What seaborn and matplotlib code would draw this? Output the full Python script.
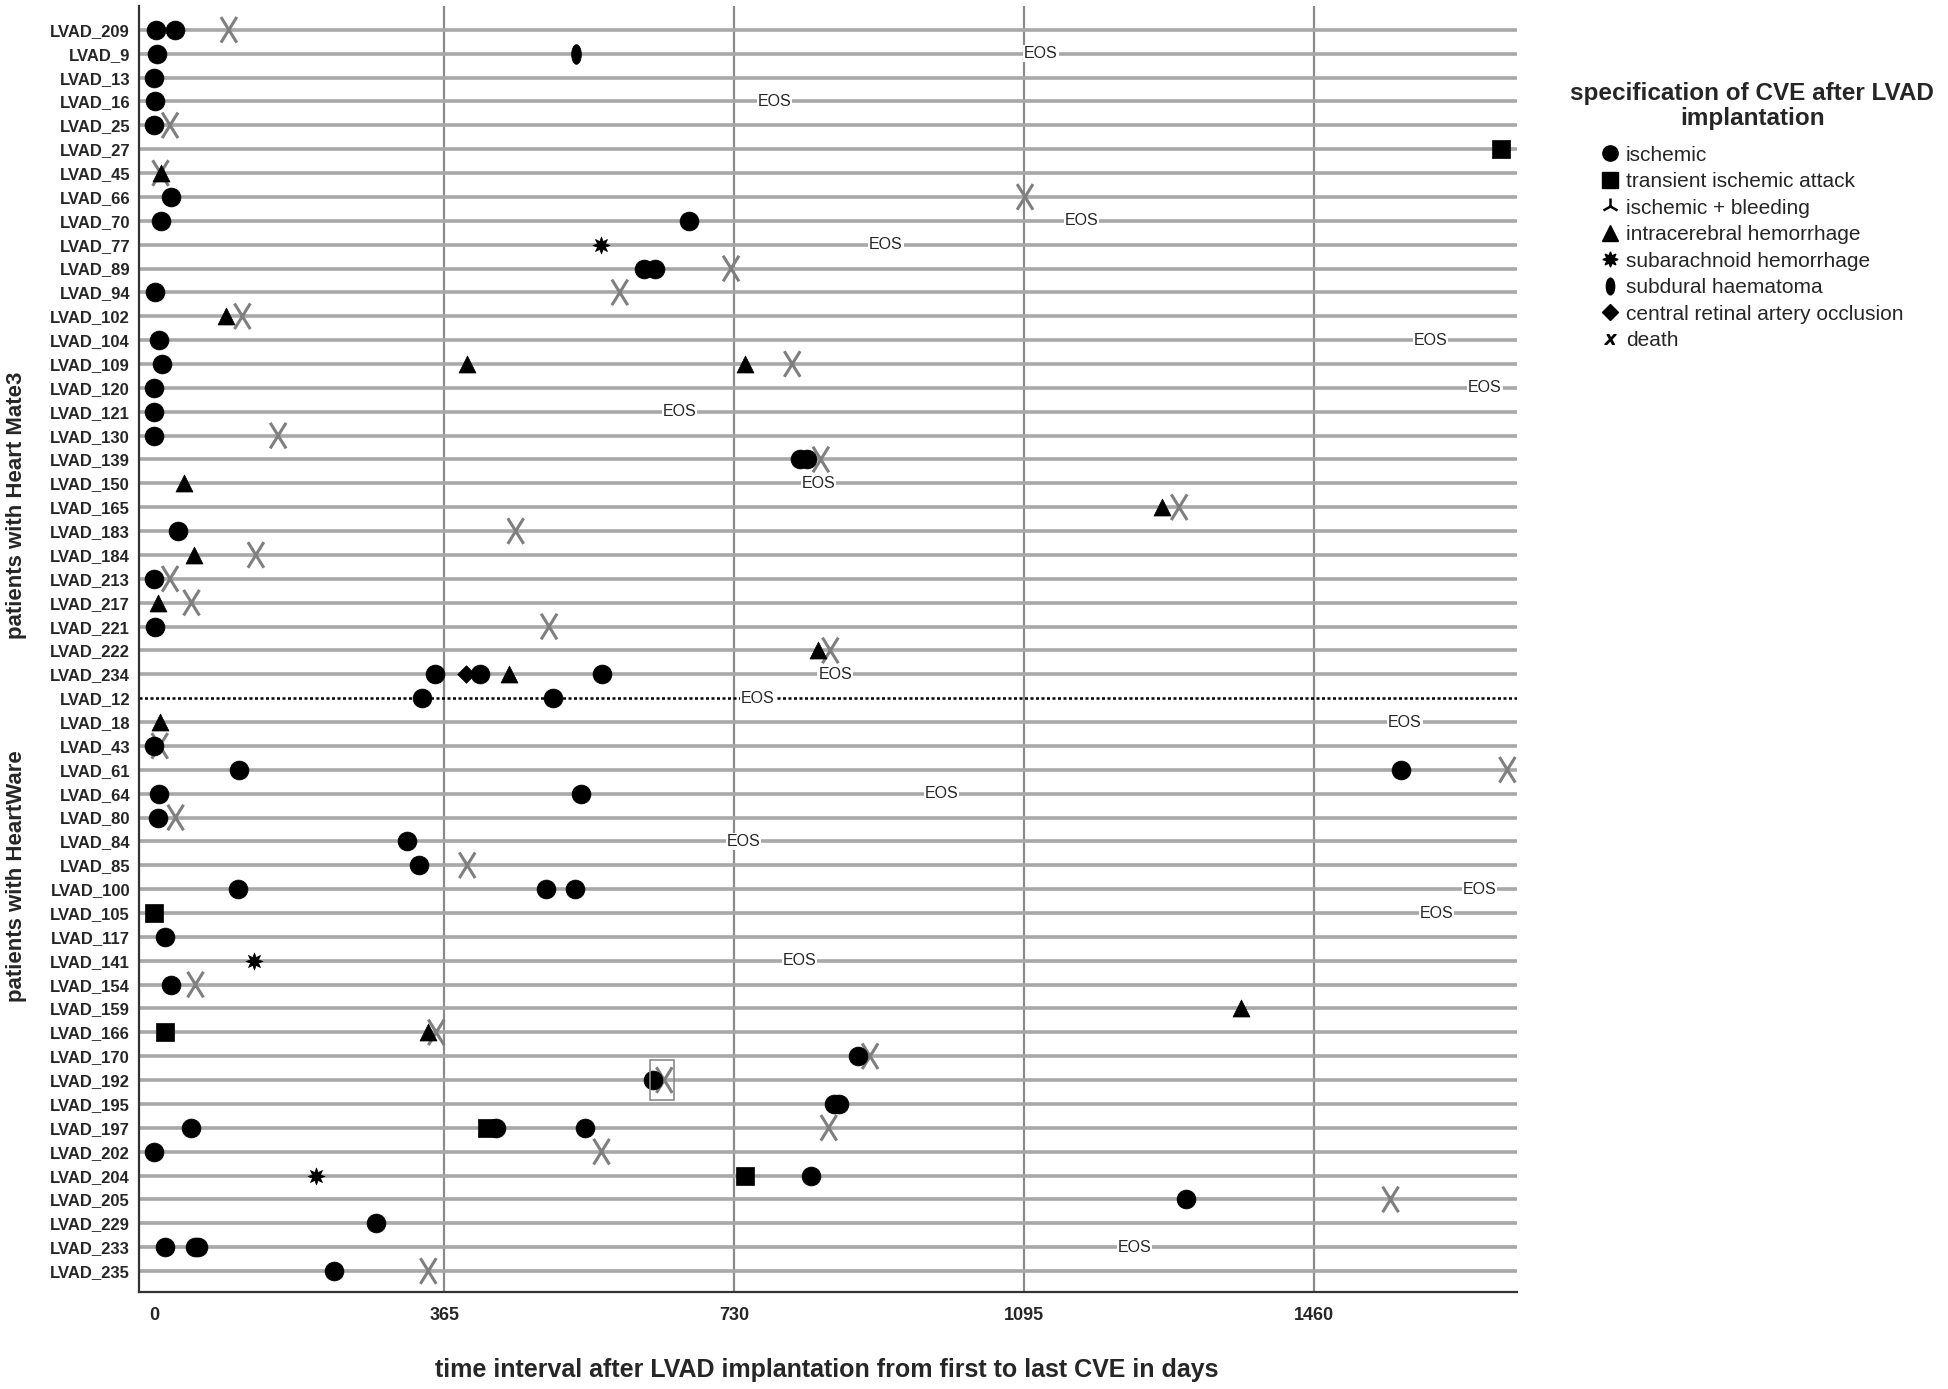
import numpy as np
import pandas as pd
import matplotlib
matplotlib.use("Agg")
import matplotlib.pyplot as plt
from matplotlib.path import Path
from matplotlib.lines import Line2D
from matplotlib.patches import Rectangle
import seaborn as sns

# patients (top to bottom)
hm3_patients = ["LVAD_209", "LVAD_9", "LVAD_13", "LVAD_16", "LVAD_25", "LVAD_27", "LVAD_45",
                "LVAD_66", "LVAD_70", "LVAD_77", "LVAD_89", "LVAD_94", "LVAD_102", "LVAD_104",
                "LVAD_109", "LVAD_120", "LVAD_121", "LVAD_130", "LVAD_139", "LVAD_150", "LVAD_165",
                "LVAD_183", "LVAD_184", "LVAD_213", "LVAD_217", "LVAD_221", "LVAD_222", "LVAD_234"]
hw_patients = ["LVAD_12", "LVAD_18", "LVAD_43", "LVAD_61", "LVAD_64", "LVAD_80", "LVAD_84",
               "LVAD_85", "LVAD_100", "LVAD_105", "LVAD_117", "LVAD_141", "LVAD_154", "LVAD_159",
               "LVAD_166", "LVAD_170", "LVAD_192", "LVAD_195", "LVAD_197", "LVAD_202", "LVAD_204",
               "LVAD_205", "LVAD_229", "LVAD_233", "LVAD_235"]

# events: (patient, day after implantation)
ischemic = [("LVAD_209", 2), ("LVAD_209", 26), ("LVAD_9", 4), ("LVAD_13", 0), ("LVAD_16", 1),
            ("LVAD_25", 0), ("LVAD_66", 21), ("LVAD_70", 9), ("LVAD_70", 673), ("LVAD_89", 616),
            ("LVAD_89", 630), ("LVAD_94", 1), ("LVAD_104", 6), ("LVAD_109", 10), ("LVAD_120", 0),
            ("LVAD_121", 0), ("LVAD_130", 0), ("LVAD_139", 813), ("LVAD_139", 821), ("LVAD_183", 30),
            ("LVAD_213", 0), ("LVAD_221", 1), ("LVAD_234", 353), ("LVAD_234", 410), ("LVAD_234", 563),
            ("LVAD_12", 337), ("LVAD_12", 502), ("LVAD_43", 0), ("LVAD_61", 107), ("LVAD_61", 1569),
            ("LVAD_64", 6), ("LVAD_64", 537), ("LVAD_80", 5), ("LVAD_84", 318), ("LVAD_85", 333),
            ("LVAD_100", 105), ("LVAD_100", 493), ("LVAD_100", 530), ("LVAD_117", 13), ("LVAD_154", 21),
            ("LVAD_170", 886), ("LVAD_192", 628), ("LVAD_195", 855), ("LVAD_195", 862), ("LVAD_197", 46),
            ("LVAD_197", 430), ("LVAD_197", 542), ("LVAD_202", 0), ("LVAD_204", 826), ("LVAD_205", 1298),
            ("LVAD_229", 279), ("LVAD_233", 13), ("LVAD_233", 51), ("LVAD_233", 55), ("LVAD_235", 226)]
tia = [("LVAD_27", 1695), ("LVAD_105", 0), ("LVAD_166", 14), ("LVAD_197", 419), ("LVAD_204", 744)]
ich = [("LVAD_45", 9), ("LVAD_102", 91), ("LVAD_109", 394), ("LVAD_109", 744), ("LVAD_150", 37),
       ("LVAD_165", 1268), ("LVAD_184", 50), ("LVAD_217", 5), ("LVAD_222", 836), ("LVAD_234", 446),
       ("LVAD_18", 7), ("LVAD_159", 1368), ("LVAD_166", 345)]
sah = [("LVAD_77", 562), ("LVAD_141", 125), ("LVAD_204", 204)]
sdh = [("LVAD_9", 531)]
crao = [("LVAD_234", 393)]
death = [("LVAD_209", 94), ("LVAD_25", 20), ("LVAD_45", 8), ("LVAD_66", 1096), ("LVAD_89", 726),
         ("LVAD_94", 586), ("LVAD_102", 111), ("LVAD_109", 803), ("LVAD_130", 156), ("LVAD_139", 839),
         ("LVAD_165", 1290), ("LVAD_183", 455), ("LVAD_184", 128), ("LVAD_213", 20), ("LVAD_217", 47),
         ("LVAD_221", 497), ("LVAD_222", 851), ("LVAD_43", 7), ("LVAD_61", 1703), ("LVAD_80", 27),
         ("LVAD_85", 394), ("LVAD_154", 52), ("LVAD_166", 355), ("LVAD_170", 901), ("LVAD_192", 642),
         ("LVAD_197", 849), ("LVAD_202", 563), ("LVAD_205", 1556), ("LVAD_235", 345)]
eos = [("LVAD_9", 1116), ("LVAD_16", 781), ("LVAD_70", 1167), ("LVAD_77", 921), ("LVAD_104", 1606),
       ("LVAD_120", 1675), ("LVAD_121", 661), ("LVAD_150", 836), ("LVAD_234", 857), ("LVAD_12", 760),
       ("LVAD_18", 1574), ("LVAD_64", 991), ("LVAD_84", 742), ("LVAD_100", 1668), ("LVAD_105", 1614),
       ("LVAD_141", 812), ("LVAD_233", 1234)]

x_ticks = [0, 365, 730, 1095, 1460]
x_limits = (-19, 1715)

event_labels = ["ischemic", "transient ischemic attack", "ischemic + bleeding",
                "intracerebral hemorrhage", "subarachnoid hemorrhage", "subdural haematoma",
                "central retinal artery occlusion", "death"]

sns.set_theme(style="white")
plt.rcParams["font.family"] = ["Liberation Sans", "DejaVu Sans"]

patients = hm3_patients + hw_patients
row_of = {p: i for i, p in enumerate(patients)}

def to_frame(pairs, name):
    df = pd.DataFrame(pairs, columns=["patient", "day"])
    df["row"] = df["patient"].map(row_of)
    df["event"] = name
    return df

# custom marker shapes
circ = Path.unit_circle()
ellipse_marker = Path(circ.vertices * np.array([0.5, 1.0]), circ.codes)
x_marker = Path([(-0.62, -1), (0.62, 1), (-0.62, 1), (0.62, -1)],
                [Path.MOVETO, Path.LINETO, Path.MOVETO, Path.LINETO])

styles = {
    "ischemic": dict(marker="o", s=185),
    "tia": dict(marker="s", s=170),
    "ich": dict(marker="^", s=150),
    "sah": dict(marker=(8, 1, 0), s=150),
    "sdh": dict(marker=ellipse_marker, s=200),
    "crao": dict(marker="D", s=80),
}
groups = {"ischemic": ischemic, "tia": tia, "ich": ich, "sah": sah, "sdh": sdh, "crao": crao}

fig = plt.figure(figsize=(19.48, 13.89), dpi=100)
ax = fig.add_axes([0.0714, 0.0698, 0.7073, 0.9259])

# vertical year lines
for t in x_ticks[1:]:
    ax.axvline(t, color="#8a8a8a", lw=1.6, zorder=1)

# patient lines
rows = np.arange(len(patients))
solid_rows = [r for r in rows if patients[r] != "LVAD_12"]
ax.hlines(solid_rows, x_limits[0], x_limits[1], color="#a8a8a8", lw=2.6, zorder=2)
ax.hlines(row_of["LVAD_12"], x_limits[0], x_limits[1], color="black", lw=1.8,
          linestyles=(0, (1.2, 1.0)), zorder=2)

# end of study labels
for p, d in eos:
    ax.text(d, row_of[p], "EOS", ha="center", va="center", fontsize=11.5,
            bbox=dict(fc="white", ec="none", pad=0.6), zorder=3)

# CVE markers
for key, pairs in groups.items():
    sns.scatterplot(data=to_frame(pairs, key), x="day", y="row", color="black",
                    edgecolor="black", linewidth=0.5, ax=ax, legend=False, zorder=5,
                    **styles[key])

sns.scatterplot(data=to_frame(death, "death"), x="day", y="row", marker=x_marker, s=340,
                facecolor="none", edgecolor="#7f7f7f", linewidth=2.2, ax=ax,
                legend=False, zorder=4)

# highlight box around LVAD_192 death
d192 = dict(death)["LVAD_192"]
ax.add_patch(Rectangle((d192 - 18, row_of["LVAD_192"] - 0.85), 30, 1.7, fill=False,
                       ec="#8a8a8a", lw=1.2, zorder=6))

ax.set_xlim(*x_limits)
ax.set_ylim(len(patients) - 1 + 0.88, -1.0)
ax.set_xticks(x_ticks)
ax.set_xticklabels([str(t) for t in x_ticks], fontsize=13, fontweight="bold")
ax.set_yticks(rows)
ax.set_yticklabels(patients, fontsize=12, fontweight="bold")
ax.tick_params(axis="y", length=0, pad=6.5)
ax.tick_params(axis="x", length=0, pad=11)
ax.set_xlabel("")
ax.set_ylabel("")
for side in ["top", "right"]:
    ax.spines[side].set_visible(False)
for side in ["left", "bottom"]:
    ax.spines[side].set_color("#333333")
    ax.spines[side].set_linewidth(1.6)

fig.text(0.4245, 0.0135, "time interval after LVAD implantation from first to last CVE in days",
         ha="center", va="center", fontsize=18, fontweight="bold")
fig.text(0.0085, 0.636, "patients with Heart Mate3", rotation=90, ha="center", va="center",
         fontsize=16, fontweight="bold")
fig.text(0.0085, 0.369, "patients with HeartWare", rotation=90, ha="center", va="center",
         fontsize=16, fontweight="bold")

# legend title
fig.text(0.8995, 0.9325, "specification of CVE after LVAD", ha="center", va="center",
         fontsize=17.5, fontweight="bold")
fig.text(0.8995, 0.9150, "implantation", ha="center", va="center",
         fontsize=17.5, fontweight="bold")

# legend entries
handles = [
    Line2D([], [], marker="o", color="black", ls="none", markersize=11),
    Line2D([], [], marker="s", color="black", ls="none", markersize=11),
    Line2D([], [], marker="2", color="black", ls="none", markersize=12, mew=1.8),
    Line2D([], [], marker="^", color="black", ls="none", markersize=11),
    Line2D([], [], marker=(8, 1, 0), color="black", ls="none", markersize=11),
    Line2D([], [], marker=ellipse_marker, color="black", ls="none", markersize=12),
    Line2D([], [], marker="D", color="black", ls="none", markersize=8.5),
    Line2D([], [], marker="$x$", color="black", ls="none", markersize=8),
]
leg = fig.legend(handles, event_labels, loc="upper left", bbox_to_anchor=(0.8219, 0.8952),
                 frameon=False, fontsize=15, handlelength=0.9, handletextpad=0.3,
                 labelspacing=0.36, borderpad=0, borderaxespad=0)

fig.savefig("out.png", dpi=100)
